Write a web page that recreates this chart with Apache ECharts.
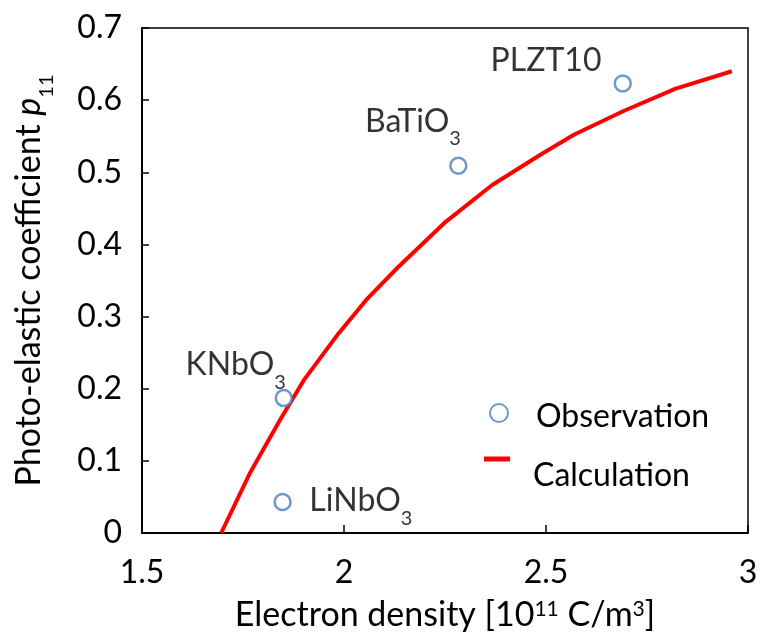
<!DOCTYPE html>
<html><head><meta charset="utf-8">
<script src="https://cdn.jsdelivr.net/npm/echarts@6/dist/echarts.min.js"></script>
<style>html,body{margin:0;padding:0;background:#fff}#c{width:764px;height:634px}</style>
</head><body><div id="c"></div>
<script>
// Observation data
const obsNames = ['PLZT10', 'BaTiO3', 'KNbO3', 'LiNbO3'];
const obsX = [2.69, 2.283, 1.851, 1.848];
const obsY = [0.623, 0.509, 0.187, 0.043];
// Calculation curve
const calcX = [1.696, 1.768, 1.843, 1.902, 1.987, 2.058, 2.133, 2.251, 2.366, 2.485, 2.569, 2.692, 2.821, 2.960];
const calcY = [0.000, 0.084, 0.158, 0.213, 0.277, 0.325, 0.368, 0.431, 0.482, 0.524, 0.552, 0.585, 0.616, 0.640];
// Axis ticks
const xTicks = [1.5, 2, 2.5, 3];
const yTicks = [0, 0.1, 0.2, 0.3, 0.4, 0.5, 0.6, 0.7];

const FONT = 'Lato';
const labelText = {
  'PLZT10': '{a|PLZT10}',
  'BaTiO3': '{a|BaTiO}{s|3}',
  'KNbO3': '{a|KNbO}{s|3}',
  'LiNbO3': '{a|LiNbO}{s|3}'
};
const labelPos = {
  'PLZT10': [-123, -14],
  'BaTiO3': [-84, -35],
  'KNbO3': [-89, -24],
  'LiNbO3': [36, 8]
};
const rich = {
  a: {fontFamily: FONT, fontSize: 32, lineHeight: 38, color: '#000'},
  s: {fontFamily: FONT, fontSize: 20, lineHeight: 20, padding: [35, 0, 0, 0], color: '#000'}
};

const obsData = obsNames.map((n, i) => ({
  value: [obsX[i], obsY[i]],
  name: n,
  label: {show: true, position: labelPos[n], align: 'left', verticalAlign: 'middle',
          formatter: labelText[n], rich: rich}
}));
const calcData = calcX.map((x, i) => [x, calcY[i]]);

const chart = echarts.init(document.getElementById('c'), null, {renderer: 'canvas'});
chart.setOption({
  animation: false,
  backgroundColor: '#fff',
  grid: {left: 142, right: 16, top: 28, bottom: 101, containLabel: false, outerBoundsMode: 'none',
         show: true, borderColor: '#000', borderWidth: 1.5, backgroundColor: 'transparent'},
  legend: [
    {data: [{name: 'Observation', icon: 'circle'}], left: 484, top: 388, itemWidth: 18, itemHeight: 18,
     formatter: '{t|Observation}',
     textStyle: {rich: {t: {fontFamily: FONT, fontSize: 32, lineHeight: 38, color: '#000', padding: [8, 0, 0, 23]}}}},
    {data: [{name: 'Calculation', icon: 'rect'}], left: 479, top: 421, itemWidth: 26, itemHeight: 5,
     formatter: '{t|Calculation}',
     textStyle: {rich: {t: {fontFamily: FONT, fontSize: 32, lineHeight: 38, color: '#000', padding: [34, 0, 0, 18]}}}}
  ],
  xAxis: {
    type: 'value', min: xTicks[0], max: xTicks[xTicks.length - 1], interval: 0.5,
    splitLine: {show: false},
    axisLine: {lineStyle: {color: '#000', width: 2}},
    axisTick: {inside: true, length: 8, lineStyle: {color: '#000', width: 1.5}},
    axisLabel: {margin: 24, fontFamily: FONT, fontSize: 32, color: '#000', formatter: v => String(v)},
    name: '{a|Electron density [10}{p|11}{a| C/m}{p|3}{a|]}',
    nameLocation: 'middle', nameGap: 62,
    nameTextStyle: {rich: {
      a: {fontFamily: FONT, fontSize: 34, lineHeight: 40, color: '#000'},
      p: {fontFamily: FONT, fontSize: 21, lineHeight: 21, padding: [0, 0, 11, 0], color: '#000'}
    }}
  },
  yAxis: {
    type: 'value', min: yTicks[0], max: yTicks[yTicks.length - 1], interval: 0.1,
    splitLine: {show: false},
    axisLine: {lineStyle: {color: '#000', width: 2}},
    axisTick: {inside: true, length: 7, lineStyle: {color: '#000', width: 1.5}},
    axisLabel: {margin: 20, fontFamily: FONT, fontSize: 32, color: '#000',
                formatter: v => v === 0 ? '0' : v.toFixed(1)},
    name: '{a|Photo-elastic coefficient }{i|p}{s|11}',
    nameLocation: 'middle', nameGap: 93,
    nameTextStyle: {rich: {
      a: {fontFamily: FONT, fontSize: 34, lineHeight: 40, color: '#000'},
      i: {fontFamily: FONT, fontSize: 34, lineHeight: 40, fontStyle: 'italic', color: '#000'},
      s: {fontFamily: FONT, fontSize: 20, lineHeight: 20, padding: [36, 0, 0, 0], color: '#000'}
    }}
  },
  series: [
    {name: 'Calculation', type: 'line', data: calcData, showSymbol: false, symbol: 'none',
     lineStyle: {color: '#ff0000', width: 4}, itemStyle: {color: '#ff0000'}, z: 2},
    {name: 'Observation', type: 'scatter', data: obsData, symbol: 'circle', symbolSize: 16,
     itemStyle: {color: '#fff', borderColor: '#4a7ebb', borderWidth: 2.5}, z: 3}
  ]
});
</script></body></html>
